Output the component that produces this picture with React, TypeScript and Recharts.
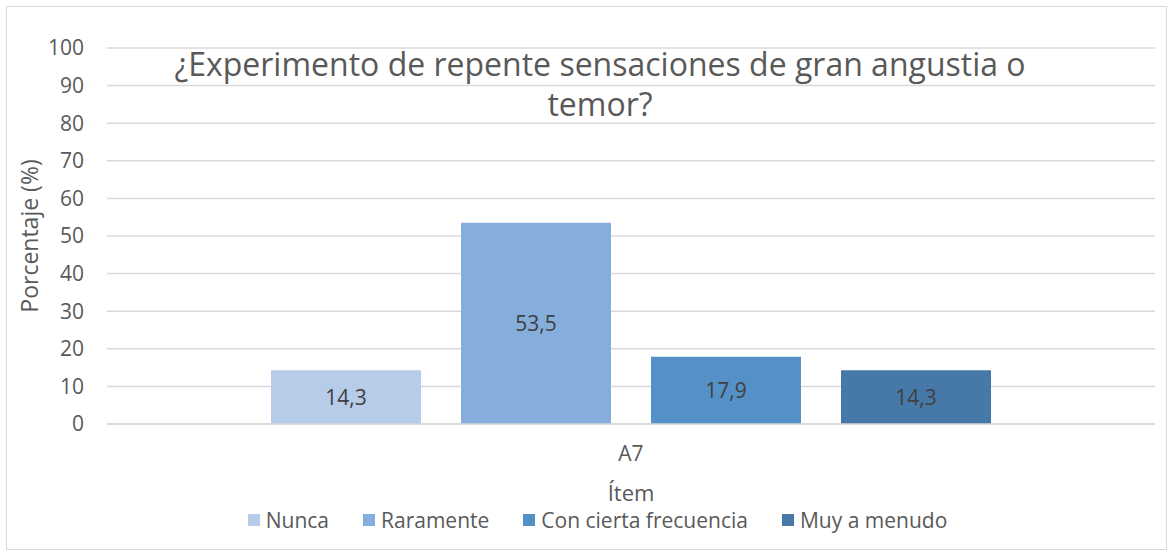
import React from 'react'
import { BarChart, Bar, XAxis, YAxis, CartesianGrid, Legend, LabelList } from 'recharts'

const categories = ['A7']
const seriesNames = ['Nunca', 'Raramente', 'Con cierta frecuencia', 'Muy a menudo']
const seriesValues = [[14.3], [53.5], [17.9], [14.3]]
const seriesColors = ['#B7CCE9', '#85AEDC', '#5590C8', '#4679A8']
const yTicks = [0, 10, 20, 30, 40, 50, 60, 70, 80, 90, 100]
const titleLines = ['¿Experimento de repente sensaciones de gran angustia o', 'temor?']

const data = categories.map((c, i) => {
  const row: Record<string, string | number> = { item: c }
  seriesNames.forEach((s, j) => {
    row[s] = seriesValues[j][i]
  })
  return row
})

const font = '"Open Sans", "Noto Sans", sans-serif'
const textColor = '#595959'

function LegendContent() {
  return (
    <div style={{ display: 'flex', justifyContent: 'center', alignItems: 'center', gap: 34, fontFamily: font, fontSize: 21, color: textColor, paddingLeft: 40 }}>
      {seriesNames.map((s, i) => (
        <div key={s} style={{ display: 'flex', alignItems: 'center' }}>
          <span style={{ display: 'inline-block', width: 12, height: 12, background: seriesColors[i], marginRight: 6 }} />
          <span>{s}</span>
        </div>
      ))}
    </div>
  )
}

export default function App() {
  return (
    <div style={{ position: 'absolute', left: 0, top: 0, width: 1173, height: 554, background: '#fff' }}>
      <div style={{ position: 'absolute', left: 6, top: 6, width: 1159, height: 542, border: '1px solid #D9D9D9' }} />
      <BarChart
        width={1173}
        height={554}
        data={data}
        margin={{ top: 48, right: 18, bottom: 20, left: 0 }}
        barCategoryGap={164}
        barGap={40}
      >
        <CartesianGrid vertical={false} stroke="#D9D9D9" strokeWidth={1.5} />
        <XAxis
          dataKey="item"
          height={82}
          axisLine={{ stroke: '#D9D9D9', strokeWidth: 1.5 }}
          tickLine={false}
          tickSize={0}
          tickMargin={22}
          tick={{ fill: textColor, fontSize: 21, fontFamily: font }}
          label={{ value: 'Ítem', position: 'insideBottom', offset: 5, fill: textColor, fontSize: 22, fontFamily: font }}
        />
        <YAxis
          width={107}
          domain={[0, 100]}
          ticks={yTicks}
          interval={0}
          axisLine={false}
          tickLine={false}
          tickSize={0}
          tickMargin={23}
          tick={{ fill: textColor, fontSize: 21, fontFamily: font }}
          label={{ value: 'Porcentaje (%)', angle: -90, position: 'insideLeft', offset: 30, fill: textColor, fontSize: 23, fontFamily: font, style: { textAnchor: 'middle' } }}
        />
        <Legend verticalAlign="bottom" height={28} content={<LegendContent />} />
        {seriesNames.map((s, i) => (
          <Bar key={s} dataKey={s} fill={seriesColors[i]} isAnimationActive={false}>
            <LabelList
              dataKey={s}
              position="center"
              formatter={(v: any) => String(v).replace('.', ',')}
              style={{ fill: '#404040', fontSize: 21, fontFamily: font }}
            />
          </Bar>
        ))}
      </BarChart>
      {titleLines.map((t, i) => (
        <div key={t} style={{ position: 'absolute', left: 0, top: 45 + i * 40, width: 1200, textAlign: 'center', fontFamily: font, fontSize: 32, color: textColor, lineHeight: '38px' }}>
          {t}
        </div>
      ))}
    </div>
  )
}
